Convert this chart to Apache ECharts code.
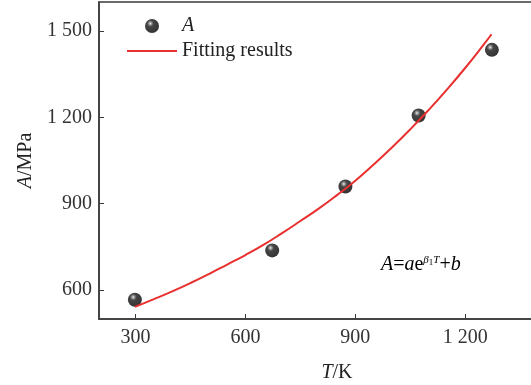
<!DOCTYPE html>
<html>
<head>
<meta charset="utf-8">
<script src="https://cdn.jsdelivr.net/npm/echarts@6/dist/echarts.min.js"></script>
<style>html,body{margin:0;padding:0;background:#fff}#c{width:531px;height:385px}</style>
</head>
<body>
<div id="c"></div>
<script>
// measured points (T in K, A in MPa)
const measuredT = [298, 673, 873, 1073, 1273];
const measuredA = [567, 738, 960, 1206, 1434];
// fitting curve
const fitT = [298, 350, 400, 450, 500, 550, 600, 650, 700, 750, 800, 850, 900, 950, 1000, 1050, 1100, 1150, 1200, 1250, 1272];
const fitA = [542, 569, 596, 625, 656, 689, 722, 758, 798, 840, 883, 930, 980, 1036, 1095, 1158, 1225, 1296, 1371, 1451, 1488];
const xTicks = [300, 600, 900, 1200];
const yTicks = [600, 900, 1200, 1500];
const seriesNames = ['A', 'Fitting results'];

const FONT = '"Liberation Serif","Times New Roman",serif';
const FS = 20;
const fmt = v => v >= 1000 ? Math.floor(v / 1000) + ' ' + String(v % 1000).padStart(3, '0') : String(v);

const ball = {
  type: 'radial', x: 0.38, y: 0.32, r: 0.7,
  colorStops: [
    { offset: 0, color: '#f4f4f4' },
    { offset: 0.12, color: '#8a8a8a' },
    { offset: 0.33, color: '#161616' },
    { offset: 1, color: '#000000' }
  ]
};
const ital = { fontStyle: 'italic', fontFamily: FONT, fontSize: FS, color: '#222' };

const chart = echarts.init(document.getElementById('c'), null, { renderer: 'canvas' });
chart.setOption({
  animation: false,
  backgroundColor: '#fff',
  grid: { left: 99, top: 2, height: 317, width: 476, outerBoundsMode: 'none', containLabel: false, show: true, borderColor: '#3a3a3a', borderWidth: 1.5 },
  legend: {
    orient: 'vertical', left: 122, top: 11,
    itemWidth: 50, itemHeight: 14, itemGap: 5,
    data: [
      { name: seriesNames[0] },
      { name: seriesNames[1], icon: 'path://M0,0 L50,0 L50,2 L0,2 Z' }
    ],
    formatter: n => n === 'A' ? '{i|A}' : n,
    textStyle: { fontFamily: FONT, fontSize: FS, color: '#222', rich: { i: ital } }
  },
  xAxis: {
    type: 'value', min: 200, max: 1500,
    name: '{i|T}/K', nameLocation: 'middle', nameGap: 44,
    nameTextStyle: { fontFamily: FONT, fontSize: FS, color: '#222', rich: { i: ital } },
    axisLine: { lineStyle: { color: '#3a3a3a', width: 1.5 } },
    axisTick: { inside: true, length: 5, customValues: xTicks, lineStyle: { color: '#3a3a3a', width: 1 } },
    axisLabel: { customValues: xTicks, formatter: fmt, fontFamily: FONT, fontSize: FS, color: '#333', margin: 9 },
    splitLine: { show: false }
  },
  yAxis: {
    type: 'value', min: 500, max: 1600,
    name: '{i|A}/MPa', nameLocation: 'middle', nameGap: 62,
    nameTextStyle: { fontFamily: FONT, fontSize: FS, color: '#222', rich: { i: ital } },
    axisLine: { show: true, lineStyle: { color: '#3a3a3a', width: 1.5 } },
    axisTick: { show: true, inside: true, length: 5, customValues: yTicks, lineStyle: { color: '#3a3a3a', width: 1 } },
    axisLabel: { customValues: yTicks, formatter: fmt, fontFamily: FONT, fontSize: FS, color: '#333', margin: 7 },
    splitLine: { show: false }
  },
  series: [
    {
      name: seriesNames[0], type: 'scatter', z: 3,
      symbol: 'circle', symbolSize: 14,
      itemStyle: { color: ball },
      data: measuredT.map((t, i) => [t, measuredA[i]])
    },
    {
      name: seriesNames[1], type: 'line', z: 4,
      symbol: 'none', smooth: true,
      lineStyle: { color: '#e8302f', width: 2 },
      itemStyle: { color: '#e8302f' },
      data: fitT.map((t, i) => [t, fitA[i]])
    }
  ],
  graphic: [{
    type: 'text', left: 381, top: 255,
    style: {
      text: '{i|A}{n|=}{i|a}{n|e}{s|β}{t|1}{s|T}{n|+}{i|b}',
      rich: {
        i: { fontStyle: 'italic', fontFamily: FONT, fontSize: FS, color: '#222', verticalAlign: 'bottom' },
        n: { fontFamily: FONT, fontSize: FS, color: '#222', verticalAlign: 'bottom' },
        s: { fontStyle: 'italic', fontFamily: FONT, fontSize: 11, color: '#222', verticalAlign: 'top' },
        t: { fontFamily: FONT, fontSize: 9, color: '#222', verticalAlign: 'top', padding: [3, 0, 0, 0] }
      }
    }
  }]
});
</script>
</body>
</html>
